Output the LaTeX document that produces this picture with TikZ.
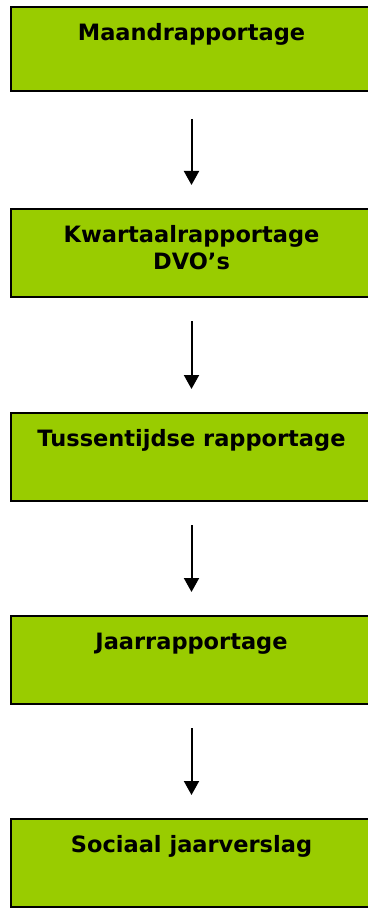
\documentclass[tikz,border=0pt]{standalone}
\usepackage{fontspec}
\setmainfont{DejaVu Sans}
\usetikzlibrary{arrows.meta,positioning}
\definecolor{StageGreen}{HTML}{99CC00}
\tikzset{stagebox/.style={draw=black,fill=StageGreen,line width=2pt,
    anchor=north west,minimum width=361pt,minimum height=88pt,inner sep=0pt},
  stagetext/.style={anchor=north,inner sep=0pt,yshift=-17.4pt,align=center,
    font=\fontsize{22.5}{27}\selectfont\bfseries},
  flow/.style={-{Triangle[length=14pt,width=15pt]},line width=2pt,
    shorten <=23pt,shorten >=23pt}}

\begin{document}
\begin{tikzpicture}[x=1pt,y=-1pt]
    \useasboundingbox (0,0) rectangle (367,909);
    \node[stagebox,minimum height=84pt,
      label={[stagetext]north:Maandrapportage}] (maand) at (10,6) {};
    \node[stagebox,
      label={[stagetext]north:Kwartaalrapportage\\DVO’s}] (kwartaal) at (10,208) {};
    \node[stagebox,
      label={[stagetext]north:Tussentijdse rapportage}] (tussen) at (10,412) {};
    \node[stagebox,
      label={[stagetext]north:Jaarrapportage}] (jaar) at (10,615) {};
    \node[stagebox,
      label={[stagetext]north:Sociaal jaarverslag}] (sociaal) at (10,818) {};
    % arrows between the stages
    \draw[flow,shorten <=27pt] (maand.south) -- (kwartaal.north);
    \draw[flow] (kwartaal.south) -- (tussen.north);
    \draw[flow] (tussen.south) -- (jaar.north);
    \draw[flow] (jaar.south) -- (sociaal.north);
  \end{tikzpicture}
\end{document}
